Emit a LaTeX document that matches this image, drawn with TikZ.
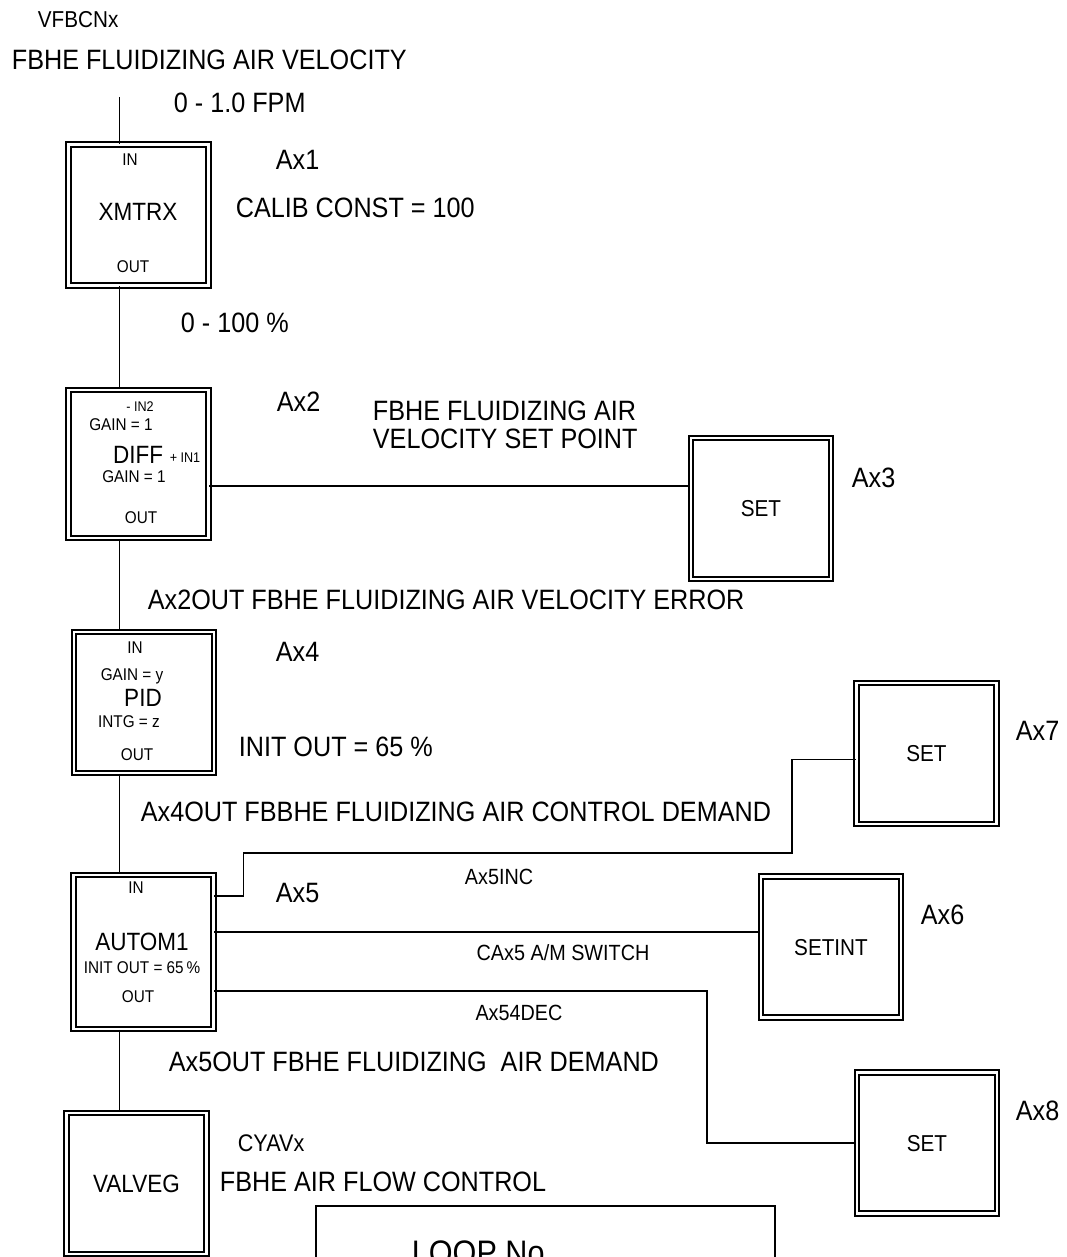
\documentclass[tikz,border=0pt]{standalone}
\usepackage{fontspec}
\setmainfont[FakeStretch=0.9]{Liberation Sans}
\usetikzlibrary{positioning}

\begin{document}
\begin{tikzpicture}[x=1pt, y=-1pt, line width=1.8pt,
    blk/.style={draw, double, double distance=2.6pt, minimum width=140pt, minimum height=141pt, inner sep=0pt},
    fnm/.style={font=\fontsize{25}{28}\selectfont, inner sep=0pt, text depth=0pt},
    inl/.style={font=\fontsize{17}{19}\selectfont, inner sep=0pt, text depth=0pt},
    port/.style={font=\fontsize{14}{16}\selectfont, inner sep=0pt, text depth=0pt},
    sig/.style={font=\fontsize{28}{32}\selectfont, inner sep=0pt, anchor=west, text depth=0pt},
    wire/.style={font=\fontsize{22}{25}\selectfont, inner sep=0pt, text depth=0pt}]

\useasboundingbox (0,0) rectangle (1066,1257);

\node[blk] (xmtrx) at (138.5,215) {};
\node[blk, minimum height=148pt] (diff) at (138.5,464) {};
\node[blk] (pid) at (144,702.5) {};
\node[blk, minimum height=154pt] (autom) at (143.5,952) {};
\node[blk] (valveg) at (136.5,1183.5) {};
\node[blk] (set3) at (761,508.5) {};
\node[blk] (set7) at (926.5,753.5) {};
\node[blk] (setint) at (831,947) {};
\node[blk] (set8) at (927,1143) {};
\node[draw, inner sep=0pt, minimum width=459pt, minimum height=200pt, anchor=north west] (loop) at (315,1205) {};

\node[inl] at (130,160) {IN};
\node[fnm] at (138,212) {XMTRX};
\node[inl] at (133,267) {OUT};

\node[port] at (140,407) {- IN2};
\node[inl] at (121,425) {GAIN = 1};
\node[fnm] at (138,455) {DIFF};
\node[port] at (185,458) {+ IN1};
\node[inl] at (134,477) {GAIN = 1};
\node[inl] at (141,518) {OUT};

\node[inl] at (135,648) {IN};
\node[inl] at (132,675) {GAIN = y};
\node[fnm] at (143,698) {PID};
\node[inl] at (129,722) {INTG = z};
\node[inl] at (137,755) {OUT};

\node[inl] at (136,888) {IN};
\node[fnm] at (142,942) {AUTOM1};
\node[inl] at (142,968) {INIT OUT = 65\,\%};
\node[inl] at (138,997) {OUT};

\node[fnm] at (valveg) {VALVEG};
\node[fnm, font=\fontsize{23}{26}\selectfont] at (set3) {SET};
\node[fnm, font=\fontsize{23}{26}\selectfont] at (set7) {SET};
\node[fnm, font=\fontsize{23}{26}\selectfont] at (setint) {SETINT};
\node[fnm, font=\fontsize{23}{26}\selectfont] at (set8) {SET};
\node[font=\fontsize{34}{38}\selectfont, inner sep=0pt, anchor=north west] at (411,1240) {LOOP No};

\node[sig, font=\fontsize{23}{26}\selectfont] at (37,19) {VFBCNx};
\node[sig] at (11,60) {FBHE FLUIDIZING AIR VELOCITY};
\node[sig] at (173,103) {0 - 1.0 FPM};
\node[sig] at (275,160) {Ax1};
\node[sig] at (235,208) {CALIB CONST = 100};
\node[sig] at (180,323) {0 - 100 \%};
\node[sig] at (276,402) {Ax2};
\node[sig, anchor=north west, align=left] at (372,400) {FBHE FLUIDIZING AIR\\[-4pt]VELOCITY SET POINT};
\node[sig] at (851,478) {Ax3};
\node[sig] at (147,600) {Ax2OUT FBHE FLUIDIZING AIR VELOCITY ERROR};
\node[sig] at (275,652) {Ax4};
\node[sig] at (238,747) {INIT OUT = 65 \%};
\node[sig] at (1015,731) {Ax7};
\node[sig] at (140,812) {Ax4OUT FBBHE FLUIDIZING AIR CONTROL DEMAND};
\node[sig] at (275,893) {Ax5};
\node[wire] at (499,877) {Ax5INC};
\node[sig] at (920,915) {Ax6};
\node[wire] at (563,953) {CAx5 A/M SWITCH};
\node[wire] at (519,1013) {Ax54DEC};
\node[sig] at (168,1062) {Ax5OUT FBHE FLUIDIZING\ \ AIR DEMAND};
\node[sig] at (1015,1111) {Ax8};
\node[sig, font=\fontsize{24}{27}\selectfont] at (237,1143) {CYAVx};
\node[sig] at (219,1182) {FBHE AIR FLOW CONTROL};

\coordinate (feed) at (119.5,97);
\coordinate (bend7) at (792,853);
\coordinate (bend8) at (707,991);

\draw (feed) -- (feed |- xmtrx.north);
\draw (feed |- xmtrx.south) -- (feed |- diff.north);
\draw (feed |- diff.south) -- (feed |- pid.north);
\draw (feed |- pid.south) -- (feed |- autom.north);
\draw (feed |- autom.south) -- (feed |- valveg.north);
\draw ([yshift=-22pt]diff.east) -- ([yshift=-22pt]diff.east -| set3.west);
\draw ([yshift=56pt]autom.east) -- ++(29,0) |- (bend7) |- ([yshift=-6pt]set7.west);
\draw ([yshift=20pt]autom.east) -- ([yshift=20pt]autom.east -| setint.west);
\draw ([yshift=-39pt]autom.east) -- (bend8) |- (set8.west);
\end{tikzpicture}
\end{document}
